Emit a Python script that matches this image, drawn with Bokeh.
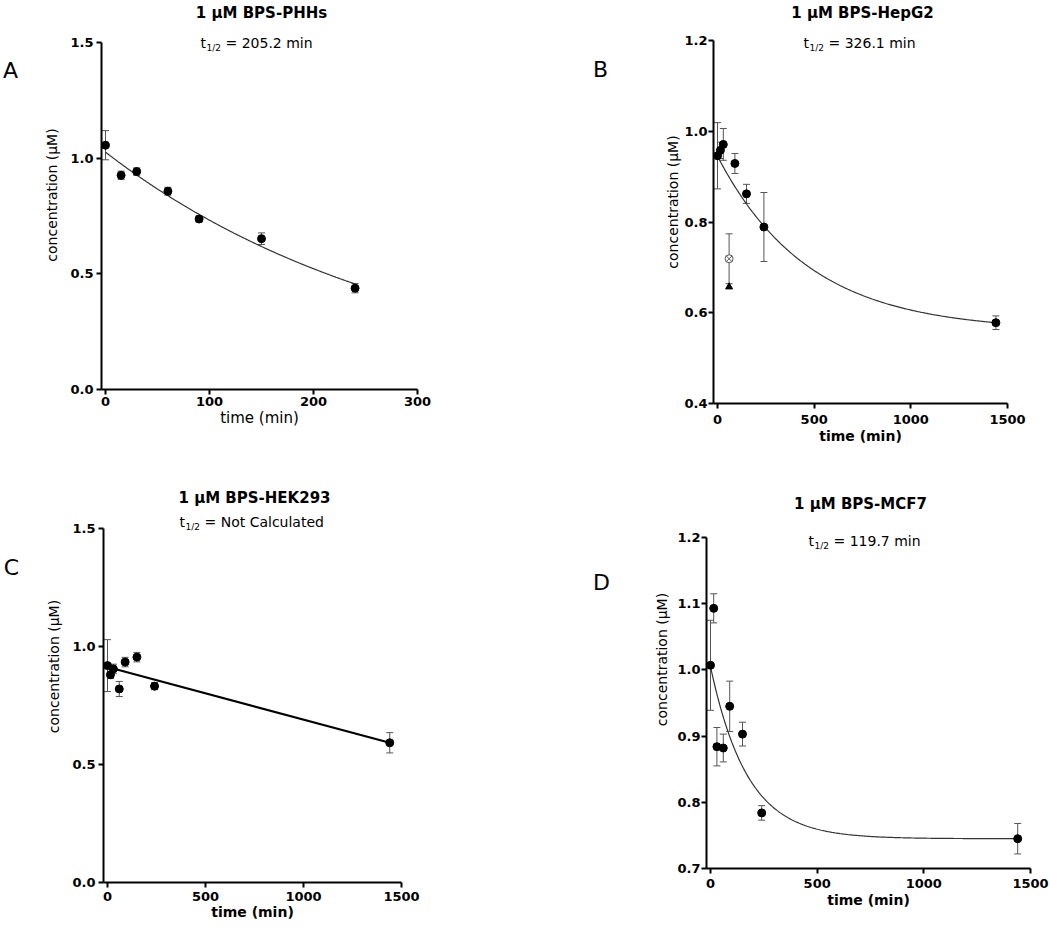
import numpy as np
from bokeh.plotting import figure
from bokeh.layouts import column, row
from bokeh.models import (ColumnDataSource, Whisker, TeeHead, Label, FixedTicker,
                          Range1d, NumeralTickFormatter)
from bokeh.core.properties import value
from bokeh.embed import file_html
from bokeh.resources import INLINE

FONT = "DejaVu Sans"

# ---------------- data ----------------
# Panel A: 1 uM BPS-PHHs
a_time = [0, 15, 30, 60, 90, 150, 240]
a_conc = [1.056, 0.926, 0.942, 0.857, 0.737, 0.652, 0.438]
a_err = [0.063, 0.018, 0.016, 0.017, 0.013, 0.025, 0.02]
a_fit = dict(y0=1.026, plateau=0.0, half_life=205.2, t_end=240)

# Panel B: 1 uM BPS-HepG2
b_time = [0, 15, 30, 90, 150, 240, 1440]
b_conc = [0.946, 0.958, 0.971, 0.929, 0.862, 0.789, 0.578]
b_err = [0.073, 0.018, 0.035, 0.022, 0.021, 0.076, 0.015]
b_open_time = [60]
b_open_conc = [0.719]
b_open_err = [0.055]
b_tri_time = [60]
b_tri_conc = [0.657]
b_fit = dict(y0=0.945, plateau=0.560, half_life=326.1, t_end=1440)

# Panel C: 1 uM BPS-HEK293
c_time = [0, 15, 30, 60, 90, 150, 240, 1440]
c_conc = [0.919, 0.880, 0.905, 0.820, 0.934, 0.955, 0.832, 0.592]
c_err = [0.11, 0.015, 0.02, 0.032, 0.02, 0.02, 0.015, 0.043]
c_lin = dict(intercept=0.913, slope=-0.000223, t_end=1440)

# Panel D: 1 uM BPS-MCF7
d_time = [0, 15, 30, 60, 90, 150, 240, 1440]
d_conc = [1.007, 1.093, 0.884, 0.882, 0.945, 0.903, 0.784, 0.745]
d_err = [0.068, 0.022, 0.029, 0.021, 0.038, 0.018, 0.011, 0.023]
d_fit = dict(y0=1.005, plateau=0.745, half_life=119.7, t_end=1440)

titles = ["1 \u03bcM BPS-PHHs", "1 \u03bcM BPS-HepG2", "1 \u03bcM BPS-HEK293", "1 \u03bcM BPS-MCF7"]
halflife_txt = ["= 205.2 min", "= 326.1 min", "= Not Calculated", "= 119.7 min"]
letters = ["A", "B", "C", "D"]

a_xticks = [0, 100, 200, 300]
long_xticks = [0, 500, 1000, 1500]
a_yticks = [0.0, 0.5, 1.0, 1.5]
b_yticks = [0.4, 0.6, 0.8, 1.0, 1.2]
c_yticks = [0.0, 0.5, 1.0, 1.5]
d_yticks = [0.7, 0.8, 0.9, 1.0, 1.1, 1.2]


def decay_curve(fit):
    t = np.linspace(0, fit["t_end"], 300)
    k = np.log(2) / fit["half_life"]
    return t, fit["plateau"] + (fit["y0"] - fit["plateau"]) * np.exp(-k * t)


def make_panel(cfg):
    W, H = cfg["W"], cfg["H"]
    fl, fr, ft, fb = cfg["frame"]          # frame left/right/top/bottom (figure px)
    x0px, xendpx = cfg["x_px"]            # pixel of first and last x tick
    y0px, yendpx = cfg["y_px"]            # pixel of first and last y tick
    xt, yt = cfg["xticks"], cfg["yticks"]
    xs = (xt[-1] - xt[0]) / (xendpx - x0px)
    ys = (yt[-1] - yt[0]) / (y0px - yendpx)
    x_start = xt[0] - (x0px - fl) * xs
    x_end = xt[-1] + (fr - xendpx) * xs
    y_start = yt[0] - (fb - y0px) * ys
    y_end = yt[-1] + (yendpx - ft) * ys

    p = figure(width=W, height=H,
               x_range=Range1d(x_start, x_end), y_range=Range1d(y_start, y_end),
               output_backend="svg", toolbar_location=None,
               min_border_left=fl, min_border_right=W - fr,
               min_border_top=ft, min_border_bottom=H - fb)
    p.title.visible = False
    p.grid.visible = False
    p.outline_line_color = None
    p.background_fill_color = "white"
    p.border_fill_color = "white"

    for ax in (p.xaxis[0], p.yaxis[0]):
        ax.axis_line_width = 2
        ax.axis_line_color = "black"
        ax.major_tick_line_width = 2
        ax.major_tick_line_color = "black"
        ax.major_tick_out = 5
        ax.major_tick_in = 0
        ax.minor_tick_line_color = None
        ax.major_label_text_font = FONT
        ax.major_label_text_font_size = "13px"
        ax.major_label_text_font_style = "bold"
        ax.major_label_text_color = "black"

    p.xaxis.major_label_standoff = cfg["xtick_standoff"]
    p.yaxis.major_label_standoff = cfg["ytick_standoff"]
    p.xaxis.ticker = FixedTicker(ticks=xt, minor_ticks=[])
    p.yaxis.ticker = FixedTicker(ticks=yt, minor_ticks=[])
    p.yaxis.formatter = NumeralTickFormatter(format="0.0")
    p.yaxis.bounds = (yt[0], yt[-1])

    p.yaxis.axis_label = "concentration (\u03bcM)"
    p.yaxis.axis_label_text_font = FONT
    p.yaxis.axis_label_text_font_size = "14px"
    p.yaxis.axis_label_text_font_style = "normal"
    p.yaxis.axis_label_text_color = "black"
    p.yaxis.axis_label_standoff = cfg["ylab_standoff"]

    p.xaxis.axis_label = "time (min)"
    p.xaxis.axis_label_text_font = FONT
    p.xaxis.axis_label_text_font_size = cfg["xlab_size"]
    p.xaxis.axis_label_text_font_style = cfg["xlab_style"]
    p.xaxis.axis_label_text_color = "black"
    p.xaxis.axis_label_standoff = cfg["xlab_standoff"]

    # error bars
    for (t, v, e) in cfg["err_series"]:
        src = ColumnDataSource(dict(x=t, lo=[a - b for a, b in zip(v, e)],
                                    hi=[a + b for a, b in zip(v, e)]))
        w = Whisker(base="x", upper="hi", lower="lo", source=src,
                    line_color="#555555", line_width=1, level="underlay",
                    upper_head=TeeHead(size=7, line_color="#555555", line_width=1),
                    lower_head=TeeHead(size=7, line_color="#555555", line_width=1))
        p.add_layout(w)

    # fit line
    ct, cy = cfg["curve"]
    p.line(ct, cy, line_color=cfg["curve_color"], line_width=cfg["curve_width"])

    # points
    p.scatter(cfg["t"], cfg["v"], size=8, marker="circle",
              fill_color="black", line_color="black")

    # texts inside the frame (given in figure px from top-left)
    def lab(px, py, text, size, style="normal", align="center"):
        p.add_layout(Label(x=px - fl, y=fb - py, x_units="screen", y_units="screen",
                           text=text, text_font=FONT, text_font_size=size,
                           text_font_style=style, text_color="black",
                           text_align=align, text_baseline="middle"))

    lab(cfg["title_pos"][0], cfg["title_pos"][1], cfg["title"], "15px", "bold")
    sx, sy = cfg["sub_pos"]
    lab(sx, sy, "t", "14px", "normal", "left")
    lab(sx + 6, sy + 5, "1/2", "9px", "normal", "left")
    lab(sx + 25, sy, cfg["sub"], "14px", "normal", "left")
    return p


def letter_fig(W, H, bottom, x, y, text):
    # frame covers 0..H-bottom (rows align bottom borders of all their plots)
    p = figure(width=W, height=H, x_range=Range1d(0, W), y_range=Range1d(H - bottom, 0),
               output_backend="svg", toolbar_location=None,
               min_border_left=0, min_border_right=0, min_border_top=0,
               min_border_bottom=bottom)
    p.title.visible = False
    p.axis.visible = False
    p.grid.visible = False
    p.outline_line_color = None
    p.text(x=[x], y=[y], text=[text], text_font=value(FONT), text_font_size="22px",
           text_color="black", text_align="center", text_baseline="middle")
    return p


ca_t, ca_y = decay_curve(a_fit)
cb_t, cb_y = decay_curve(b_fit)
cd_t, cd_y = decay_curve(d_fit)
cc_t = np.array([0, c_lin["t_end"]])
cc_y = c_lin["intercept"] + c_lin["slope"] * cc_t

B1 = 47          # common bottom border of row 1
B2 = 47          # common bottom border of row 2
R2 = 450         # page y where row 2 starts

# Panel A : figure spans page x 30..560
pA = make_panel(dict(
    W=530, H=389 + B1, frame=(101 - 30, 417 - 30, 0, 389), x_px=(105 - 30, 417 - 30),
    y_px=(389, 42), xticks=a_xticks, yticks=a_yticks,
    t=a_time, v=a_conc, err_series=[(a_time, a_conc, a_err)],
    curve=(ca_t, ca_y), curve_color="#333333", curve_width=1.2,
    title=titles[0], sub=halflife_txt[0],
    title_pos=(261 - 30, 12), sub_pos=(200 - 30, 42),
    xtick_standoff=2, ytick_standoff=3, xlab_size="15px", xlab_style="normal",
    xlab_standoff=0, ylab_standoff=7))

# Panel B : figure spans page x 640..1050
pB = make_panel(dict(
    W=410, H=403 + B1, frame=(713 - 640, 1007 - 640, 0, 403), x_px=(717 - 640, 1007 - 640),
    y_px=(403, 40), xticks=long_xticks, yticks=b_yticks,
    t=b_time, v=b_conc,
    err_series=[(b_time, b_conc, b_err), (b_open_time, b_open_conc, b_open_err)],
    curve=(cb_t, cb_y), curve_color="#333333", curve_width=1.2,
    title=titles[1], sub=halflife_txt[1],
    title_pos=(862 - 640, 12), sub_pos=(803 - 640, 42),
    xtick_standoff=6, ytick_standoff=1, xlab_size="14px", xlab_style="bold",
    xlab_standoff=1, ylab_standoff=0))
pB.scatter(b_open_time, b_open_conc, size=8, marker="circle_x",
           fill_color="white", line_color="#555555", line_width=1)
pB.scatter(b_tri_time, b_tri_conc, size=7, marker="triangle",
           fill_color="black", line_color="black")

# Panel C : figure spans page x 30..560, y R2..
pC = make_panel(dict(
    W=530, H=882 - R2 + B2, frame=(103 - 30, 401 - 30, 0, 882 - R2), x_px=(107 - 30, 401 - 30),
    y_px=(882 - R2, 528 - R2), xticks=long_xticks, yticks=c_yticks,
    t=c_time, v=c_conc, err_series=[(c_time, c_conc, c_err)],
    curve=(cc_t, cc_y), curve_color="black", curve_width=2,
    title=titles[2], sub=halflife_txt[2],
    title_pos=(254 - 30, 497 - R2), sub_pos=(179 - 30, 521 - R2),
    xtick_standoff=4, ytick_standoff=3, xlab_size="14px", xlab_style="bold",
    xlab_standoff=0, ylab_standoff=7))

# Panel D : figure spans page x 640..1050, y R2..
pD = make_panel(dict(
    W=410, H=868 - R2 + B2, frame=(706 - 640, 1030 - 640, 0, 868 - R2), x_px=(710 - 640, 1030 - 640),
    y_px=(868 - R2, 537 - R2), xticks=long_xticks, yticks=d_yticks,
    t=d_time, v=d_conc, err_series=[(d_time, d_conc, d_err)],
    curve=(cd_t, cd_y), curve_color="#333333", curve_width=1.2,
    title=titles[3], sub=halflife_txt[3],
    title_pos=(860 - 640, 503 - R2), sub_pos=(808 - 640, 540 - R2),
    xtick_standoff=5, ytick_standoff=1, xlab_size="14px", xlab_style="bold",
    xlab_standoff=1, ylab_standoff=4))

lA = letter_fig(30, 403 + B1, B1, 10, 70, letters[0])
lB = letter_fig(80, 403 + B1, B1, 40, 69, letters[1])
lC = letter_fig(30, 882 - R2 + B2, B2, 11, 567 - R2, letters[2])
lD = letter_fig(80, 882 - R2 + B2, B2, 41, 582 - R2, letters[3])

layout = column(row(lA, pA, lB, pB), row(lC, pC, lD, pD))
open("out.html", "w").write(file_html(layout, INLINE))
